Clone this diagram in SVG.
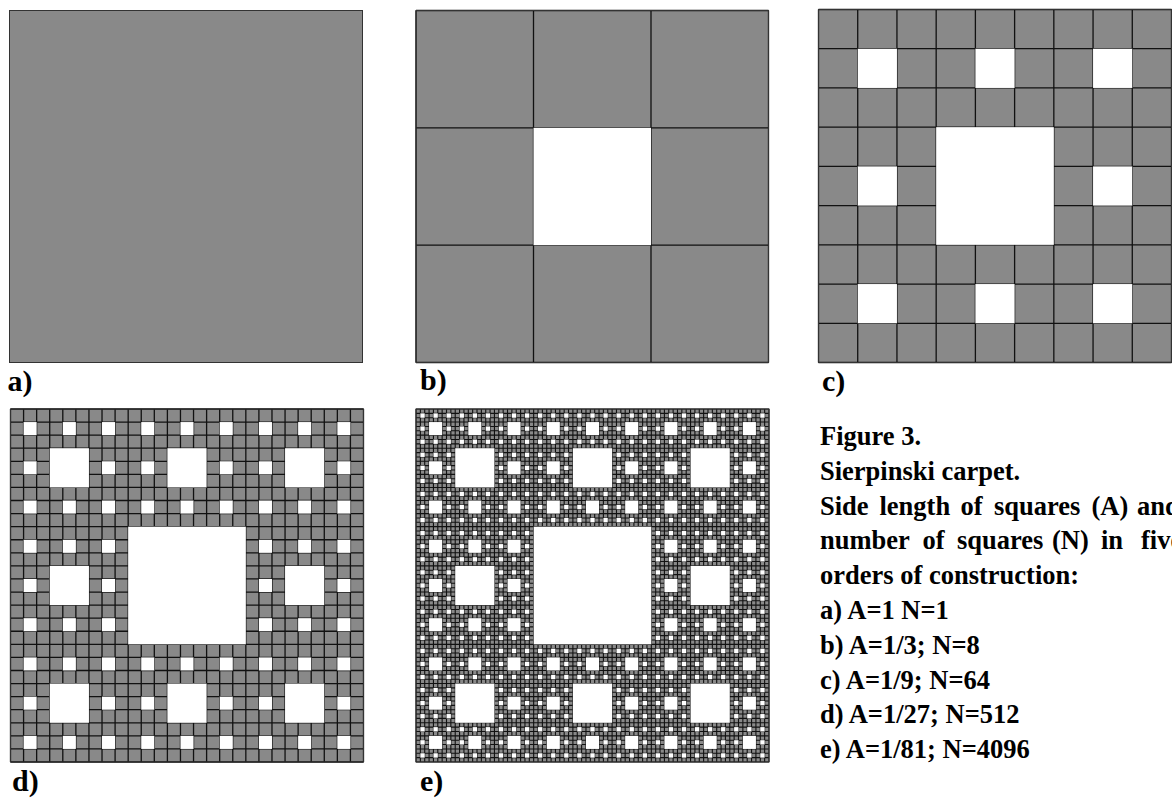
<svg xmlns="http://www.w3.org/2000/svg" width="1172" height="801" viewBox="0 0 1172 801">
<style>
.bg{fill:#fff}
.gray{fill:#898989}
.grid{stroke:#111;fill:none}
.hole{fill:#fff}
.frame{fill:none;stroke:#333;stroke-width:1}
.lbl{font-weight:bold;font-size:30px;fill:#000}
.cap{font-weight:bold;font-size:26.5px;fill:#000}
</style>
<defs>
<g id="h1"><rect x="0.3333333" y="0.3333333" width="0.3333334" height="0.3333334"/></g>
<g id="h2">
<use href="#h1"/>
<use href="#h1" transform="matrix(.3333333 0 0 .3333333 0 0)"/>
<use href="#h1" transform="matrix(.3333333 0 0 .3333333 .3333333 0)"/>
<use href="#h1" transform="matrix(.3333333 0 0 .3333333 .6666667 0)"/>
<use href="#h1" transform="matrix(.3333333 0 0 .3333333 0 .3333333)"/>
<use href="#h1" transform="matrix(.3333333 0 0 .3333333 .6666667 .3333333)"/>
<use href="#h1" transform="matrix(.3333333 0 0 .3333333 0 .6666667)"/>
<use href="#h1" transform="matrix(.3333333 0 0 .3333333 .3333333 .6666667)"/>
<use href="#h1" transform="matrix(.3333333 0 0 .3333333 .6666667 .6666667)"/>
</g>
<g id="h3">
<use href="#h1"/>
<use href="#h2" transform="matrix(.3333333 0 0 .3333333 0 0)"/>
<use href="#h2" transform="matrix(.3333333 0 0 .3333333 .3333333 0)"/>
<use href="#h2" transform="matrix(.3333333 0 0 .3333333 .6666667 0)"/>
<use href="#h2" transform="matrix(.3333333 0 0 .3333333 0 .3333333)"/>
<use href="#h2" transform="matrix(.3333333 0 0 .3333333 .6666667 .3333333)"/>
<use href="#h2" transform="matrix(.3333333 0 0 .3333333 0 .6666667)"/>
<use href="#h2" transform="matrix(.3333333 0 0 .3333333 .3333333 .6666667)"/>
<use href="#h2" transform="matrix(.3333333 0 0 .3333333 .6666667 .6666667)"/>
</g>
<g id="h4">
<use href="#h1"/>
<use href="#h3" transform="matrix(.3333333 0 0 .3333333 0 0)"/>
<use href="#h3" transform="matrix(.3333333 0 0 .3333333 .3333333 0)"/>
<use href="#h3" transform="matrix(.3333333 0 0 .3333333 .6666667 0)"/>
<use href="#h3" transform="matrix(.3333333 0 0 .3333333 0 .3333333)"/>
<use href="#h3" transform="matrix(.3333333 0 0 .3333333 .6666667 .3333333)"/>
<use href="#h3" transform="matrix(.3333333 0 0 .3333333 0 .6666667)"/>
<use href="#h3" transform="matrix(.3333333 0 0 .3333333 .3333333 .6666667)"/>
<use href="#h3" transform="matrix(.3333333 0 0 .3333333 .6666667 .6666667)"/>
</g>
</defs>
<rect class="bg" x="0" y="0" width="1172" height="801"/>

<g id="panel-a">
<rect class="gray" x="9.5" y="10.5" width="353" height="352"/>
<rect class="frame" x="9.5" y="10.5" width="353" height="352"/>
</g>

<g id="panel-b">
<rect class="gray" x="416" y="10.5" width="352.5" height="352"/>
<line class="grid" x1="415.35" y1="186.5" x2="769.2" y2="186.5" stroke-width="352" stroke-dasharray="1.3 116.2"/>
<line class="grid" x1="592.25" y1="9.85" x2="592.25" y2="363.2" stroke-width="352.5" stroke-dasharray="1.3 116.033"/>
<use href="#h1" class="hole" transform="matrix(352.5 0 0 352 416 10.5)"/>
<rect class="frame" x="416" y="10.5" width="352.5" height="352"/>
</g>

<g id="panel-c">
<rect class="gray" x="818.5" y="9.5" width="353" height="353"/>
<line class="grid" x1="817.85" y1="186" x2="1172" y2="186" stroke-width="353" stroke-dasharray="1.3 37.9222"/>
<line class="grid" x1="995" y1="8.85" x2="995" y2="363.2" stroke-width="353" stroke-dasharray="1.3 37.9222"/>
<use href="#h2" class="hole" transform="matrix(353 0 0 353 818.5 9.5)"/>
<rect class="frame" x="818.5" y="9.5" width="353" height="353"/>
</g>

<g id="panel-d">
<rect class="gray" x="10.5" y="409" width="353" height="353"/>
<line class="grid" x1="9.85" y1="585.5" x2="364.2" y2="585.5" stroke-width="353" stroke-dasharray="1.3 11.77407"/>
<line class="grid" x1="187" y1="408.35" x2="187" y2="762.7" stroke-width="353" stroke-dasharray="1.3 11.77407"/>
<use href="#h3" class="hole" transform="matrix(353 0 0 353 10.5 409)"/>
<rect class="frame" x="10.5" y="409" width="353" height="353"/>
</g>

<g id="panel-e">
<rect class="gray" x="416" y="409" width="353" height="353"/>
<line class="grid" x1="415.45" y1="585.5" x2="769.6" y2="585.5" stroke-width="353" stroke-dasharray="1.1 3.258025"/>
<line class="grid" x1="592.5" y1="408.45" x2="592.5" y2="762.6" stroke-width="353" stroke-dasharray="1.1 3.258025"/>
<use href="#h4" class="hole" transform="matrix(353 0 0 353 416 409)"/>
<rect class="frame" x="416" y="409" width="353" height="353"/>
</g>

<g id="labels" font-family="'Liberation Serif', Tinos, 'Times New Roman', 'DejaVu Serif', serif">
<text class="lbl" x="7.5" y="391">a)</text>
<text class="lbl" x="420" y="390">b)</text>
<text class="lbl" x="822" y="391">c)</text>
<text class="lbl" x="12" y="791">d)</text>
<text class="lbl" x="420" y="791">e)</text>
</g>

<g id="caption" font-family="'Liberation Serif', Tinos, 'Times New Roman', 'DejaVu Serif', serif">
<text class="cap" x="820" y="445">Figure 3.</text>
<text class="cap" x="820" y="479.8">Sierpinski carpet.</text>
<text class="cap" y="514.6"><tspan x="820">Side</tspan><tspan x="879.5">length</tspan><tspan x="960.5">of</tspan><tspan x="994">squares</tspan><tspan x="1091.5">(A)</tspan><tspan x="1137">and</tspan></text>
<text class="cap" y="549.4"><tspan x="820">number</tspan><tspan x="922.5">of</tspan><tspan x="957">squares</tspan><tspan x="1052">(N)</tspan><tspan x="1101">in</tspan><tspan x="1141">five</tspan></text>
<text class="cap" x="820" y="584.2">orders of construction:</text>
<text class="cap" x="820" y="619">a) A=1 N=1</text>
<text class="cap" x="820" y="653.8">b) A=1/3; N=8</text>
<text class="cap" x="820" y="688.6">c) A=1/9; N=64</text>
<text class="cap" x="820" y="723.4">d) A=1/27; N=512</text>
<text class="cap" x="820" y="758.2">e) A=1/81; N=4096</text>
</g>
</svg>
